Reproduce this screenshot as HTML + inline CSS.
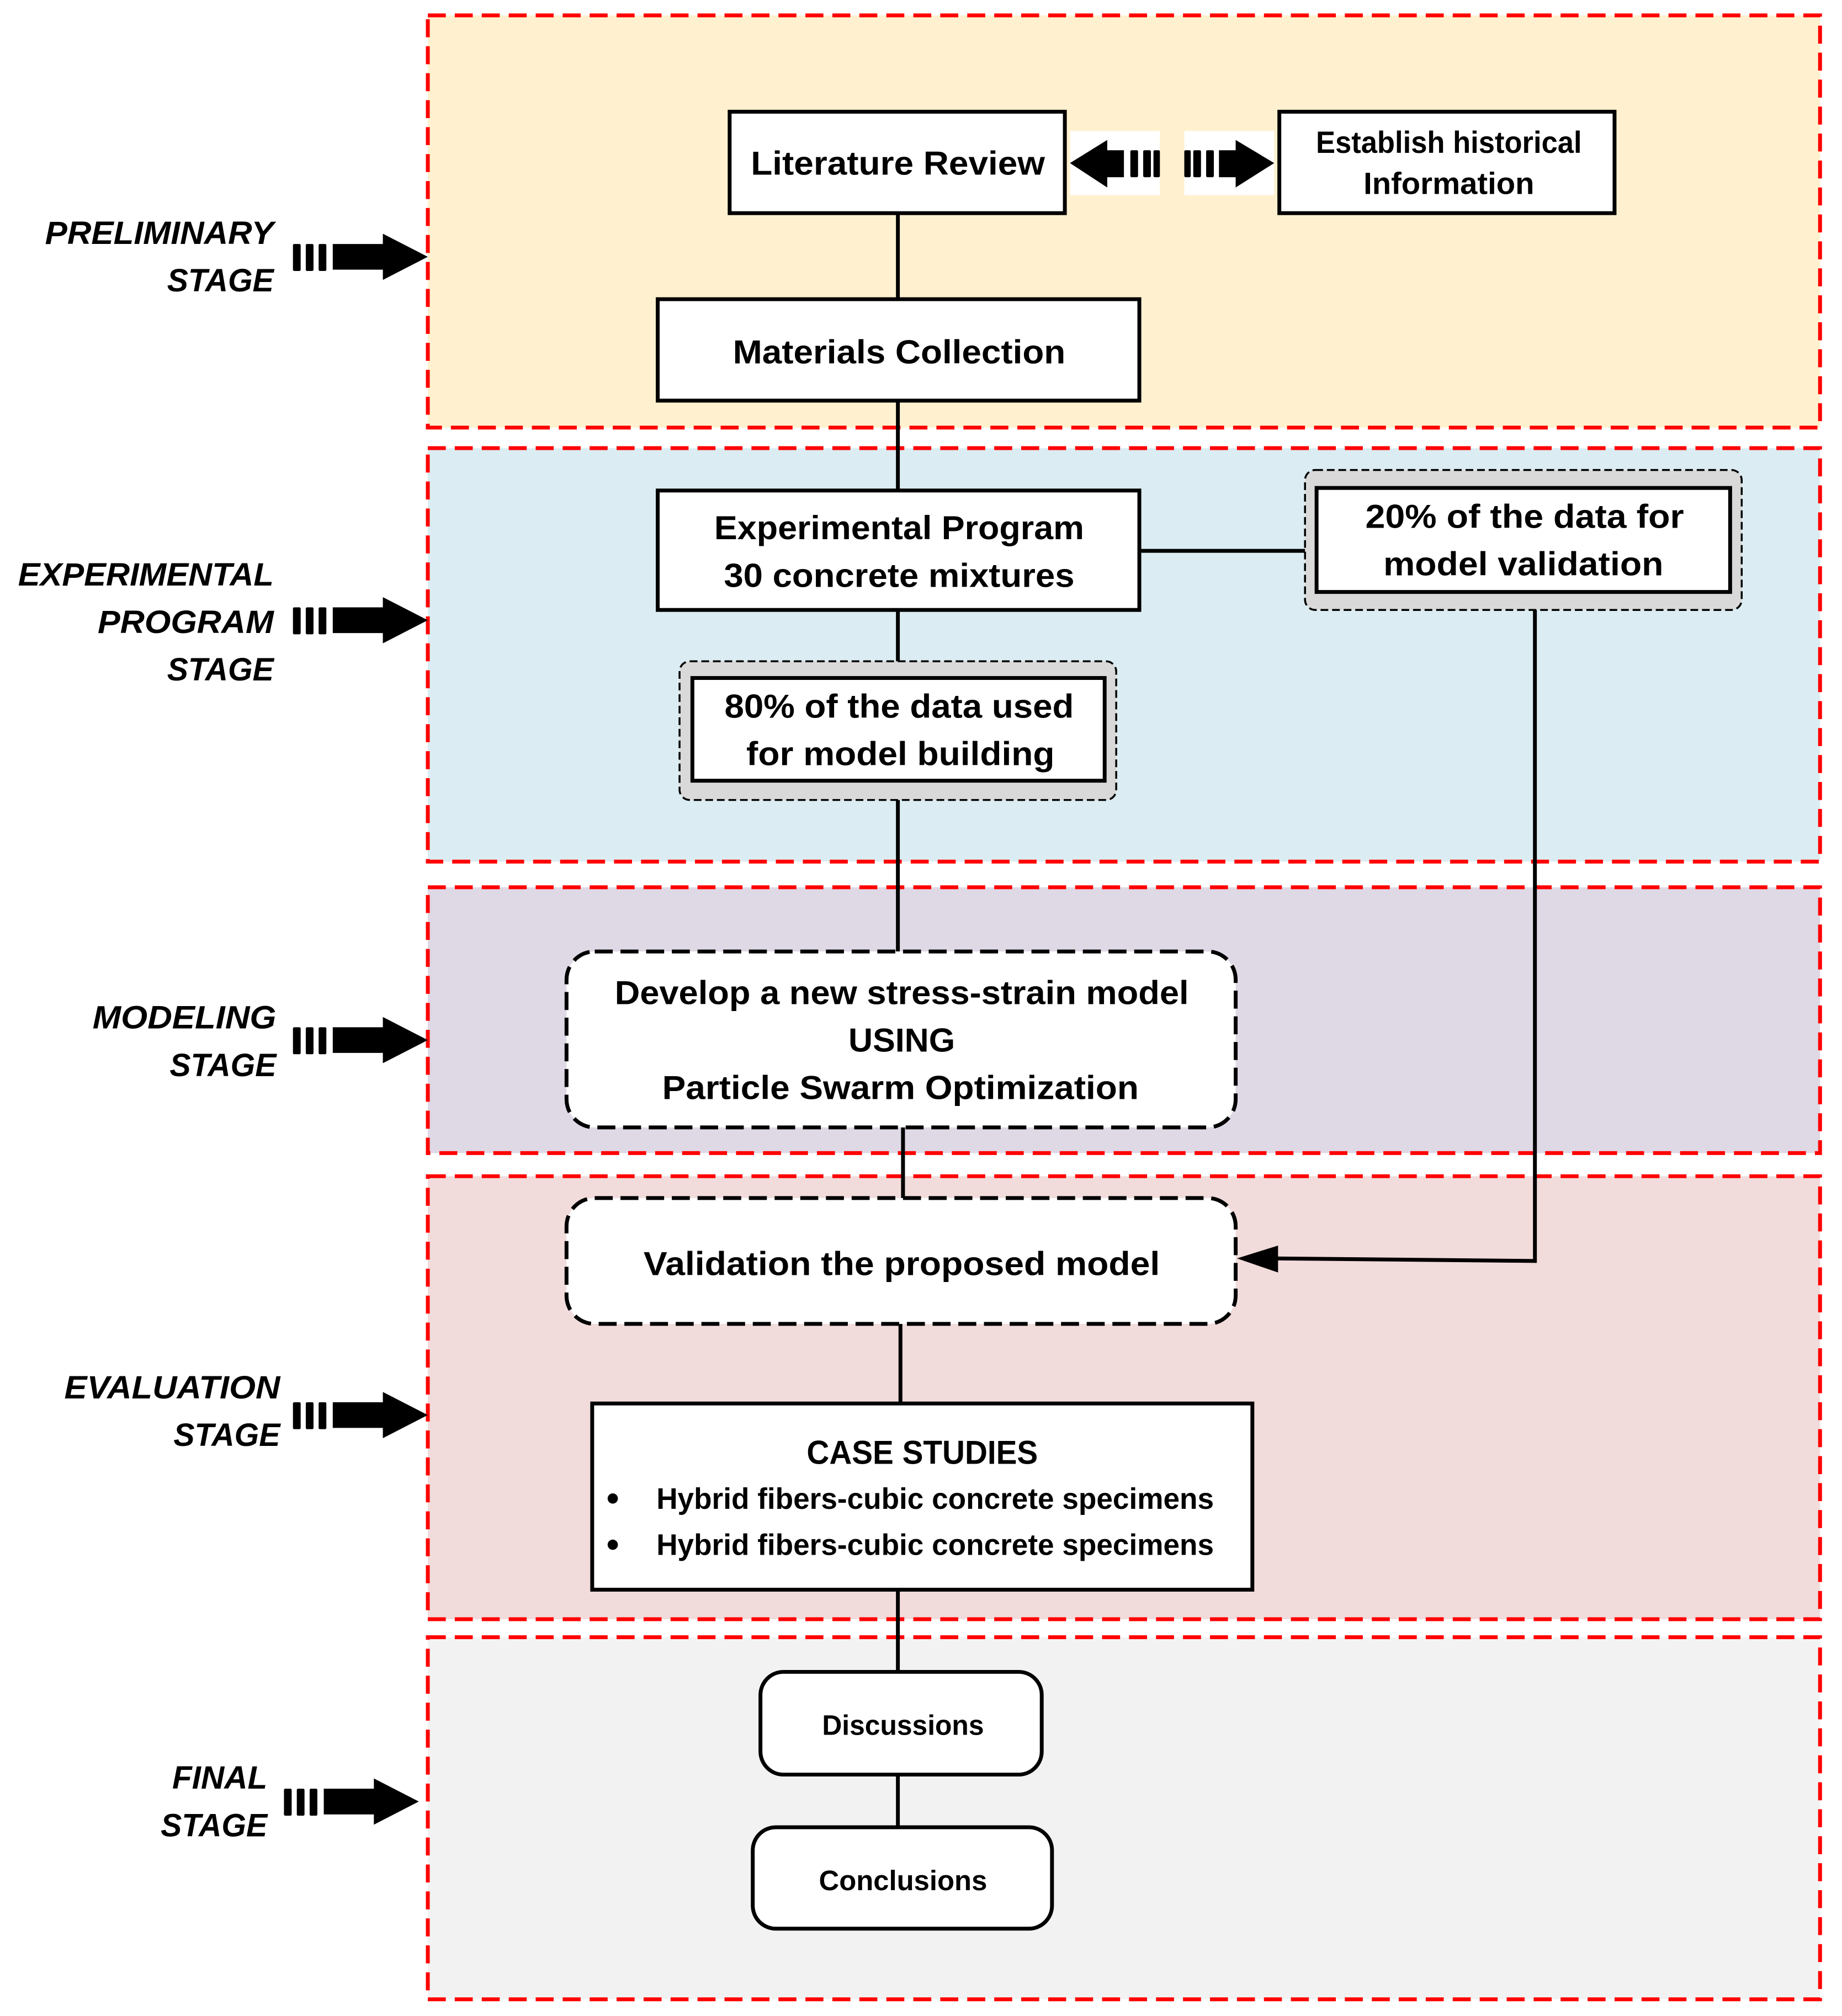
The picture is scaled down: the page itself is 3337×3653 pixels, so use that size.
<!DOCTYPE html>
<html><head><meta charset="utf-8"><style>html,body{margin:0;padding:0;background:#fff}svg{display:block}</style></head><body>
<svg width="3337" height="3653" viewBox="0 0 1434 1570" xmlns="http://www.w3.org/2000/svg" font-family="Liberation Sans, sans-serif" font-weight="bold">
<defs>
<g id="sa">
<rect x="0" y="-10" width="6" height="21" rx="1"/><rect x="10" y="-10" width="6" height="21" rx="1"/><rect x="20" y="-10" width="6" height="21" rx="1"/>
<path d="M31,-10 H70 V-18 L105,0 L70,18 V10 H31 Z"/>
</g>
</defs>
<!-- bands -->
<g stroke="#ff0000" stroke-width="3" stroke-dasharray="14,7">
<rect x="333" y="12" width="1084" height="321" fill="#fff1cf"/>
<rect x="333" y="349" width="1084" height="322" fill="#dbedf2"/>
<rect x="333" y="691" width="1084" height="207" fill="#dfd8e5"/>
<rect x="333" y="916" width="1084" height="345" fill="#f1dcdb"/>
<rect x="333" y="1275" width="1084" height="282" fill="#f2f2f2"/>
</g>
<!-- stage arrows -->
<use href="#sa" x="228" y="200"/>
<use href="#sa" x="228" y="483"/>
<use href="#sa" x="228" y="810"/>
<use href="#sa" x="228" y="1102"/>
<use href="#sa" x="221" y="1403"/>
<g font-style="italic" font-size="25" text-anchor="end" lengthAdjust="spacingAndGlyphs">
<text x="213" y="190" textLength="178" lengthAdjust="spacingAndGlyphs">PRELIMINARY</text>
<text x="213" y="227" textLength="83" lengthAdjust="spacingAndGlyphs">STAGE</text>
<text x="213" y="456" textLength="199" lengthAdjust="spacingAndGlyphs">EXPERIMENTAL</text>
<text x="213" y="493" textLength="137" lengthAdjust="spacingAndGlyphs">PROGRAM</text>
<text x="213" y="530" textLength="83" lengthAdjust="spacingAndGlyphs">STAGE</text>
<text x="215" y="801" textLength="143" lengthAdjust="spacingAndGlyphs">MODELING</text>
<text x="215" y="838" textLength="83" lengthAdjust="spacingAndGlyphs">STAGE</text>
<text x="218" y="1089" textLength="168" lengthAdjust="spacingAndGlyphs">EVALUATION</text>
<text x="218" y="1126" textLength="83" lengthAdjust="spacingAndGlyphs">STAGE</text>
<text x="208" y="1393" textLength="74" lengthAdjust="spacingAndGlyphs">FINAL</text>
<text x="208" y="1430" textLength="83" lengthAdjust="spacingAndGlyphs">STAGE</text>
</g>
<!-- connectors -->
<g stroke="#000" stroke-width="3" fill="none">
<line x1="699" y1="166" x2="699" y2="233"/>
<line x1="699" y1="312" x2="699" y2="382"/>
<line x1="699" y1="475" x2="699" y2="528"/>
<line x1="699" y1="608" x2="699" y2="741"/>
<line x1="703" y1="878" x2="703" y2="933"/>
<line x1="701" y1="1031" x2="701" y2="1093"/>
<line x1="699" y1="1238" x2="699" y2="1302"/>
<line x1="699" y1="1382" x2="699" y2="1423"/>
<line x1="887" y1="429" x2="1016" y2="429"/>
<polyline points="1195,475 1195,982 990,980"/>
</g>
<path d="M963,980 L995,970 L995,991 Z" fill="#000"/>
<!-- double arrows -->
<rect x="833" y="102" width="70" height="50" fill="#fff"/>
<rect x="922" y="102" width="70" height="50" fill="#fff"/>
<g fill="#000">
<path d="M833,127 L862,109 V117 H875 V138 H862 V146 Z"/>
<rect x="880" y="117" width="6" height="21" rx="1"/><rect x="890" y="117" width="6" height="21" rx="1"/><rect x="898" y="117" width="5" height="21" rx="1"/>
<rect x="922" y="117" width="5" height="21" rx="1"/><rect x="929" y="117" width="6" height="21" rx="1"/><rect x="939" y="117" width="6" height="21" rx="1"/>
<path d="M949,117 H962 V109 L992,127 L962,146 V138 H949 Z"/>
</g>
<!-- boxes -->
<g stroke="#000" stroke-width="3" fill="#fff">
<rect x="568" y="87" width="261" height="79"/>
<rect x="996" y="87" width="261" height="79"/>
<rect x="512" y="233" width="375" height="79"/>
<rect x="512" y="382" width="375" height="93"/>
<rect x="1016" y="366" width="340" height="109" rx="8" fill="#d9d9d9" stroke-width="1.5" stroke-dasharray="6,3"/>
<rect x="1025" y="380" width="322" height="81"/>
<rect x="529" y="515" width="340" height="108" rx="8" fill="#d9d9d9" stroke-width="1.5" stroke-dasharray="6,3"/>
<rect x="539" y="528" width="321" height="80"/>
<rect x="441" y="741" width="521" height="137" rx="22" stroke-dasharray="14,6"/>
<rect x="441" y="933" width="521" height="98" rx="22" stroke-dasharray="14,6"/>
<rect x="461" y="1093" width="514" height="145"/>
<rect x="592" y="1302" width="219" height="80" rx="18"/>
<rect x="586" y="1423" width="233" height="79" rx="18"/>
</g>
<g font-size="26" text-anchor="middle" fill="#000">
<text x="699" y="136" textLength="229" lengthAdjust="spacingAndGlyphs">Literature Review</text>
<text x="1128" y="119" font-size="24" textLength="207" lengthAdjust="spacingAndGlyphs">Establish historical</text>
<text x="1128" y="151" font-size="24" textLength="133" lengthAdjust="spacingAndGlyphs">Information</text>
<text x="700" y="283" textLength="259" lengthAdjust="spacingAndGlyphs">Materials Collection</text>
<text x="700" y="420" textLength="288" lengthAdjust="spacingAndGlyphs">Experimental Program</text>
<text x="700" y="457" textLength="273" lengthAdjust="spacingAndGlyphs">30 concrete mixtures</text>
<text x="1187" y="411" textLength="248" lengthAdjust="spacingAndGlyphs">20% of the data for</text>
<text x="1186" y="448" textLength="218" lengthAdjust="spacingAndGlyphs">model validation</text>
<text x="700" y="559" textLength="272" lengthAdjust="spacingAndGlyphs">80% of the data used</text>
<text x="701" y="596" textLength="240" lengthAdjust="spacingAndGlyphs">for model building</text>
<text x="702" y="782" textLength="447" lengthAdjust="spacingAndGlyphs">Develop a new stress-strain model</text>
<text x="702" y="819" textLength="83" lengthAdjust="spacingAndGlyphs">USING</text>
<text x="701" y="856" textLength="371" lengthAdjust="spacingAndGlyphs">Particle Swarm Optimization</text>
<text x="702" y="993" textLength="402" lengthAdjust="spacingAndGlyphs">Validation the proposed model</text>
<text x="718" y="1140" textLength="180" lengthAdjust="spacingAndGlyphs">CASE STUDIES</text>
<text x="728" y="1175" font-size="23" textLength="434" lengthAdjust="spacingAndGlyphs">Hybrid fibers-cubic concrete specimens</text>
<text x="728" y="1211" font-size="23" textLength="434" lengthAdjust="spacingAndGlyphs">Hybrid fibers-cubic concrete specimens</text>
<text x="703" y="1351" font-size="22" textLength="126" lengthAdjust="spacingAndGlyphs">Discussions</text>
<text x="703" y="1472" font-size="22" textLength="131" lengthAdjust="spacingAndGlyphs">Conclusions</text>
</g>
<circle cx="477" cy="1167" r="4"/>
<circle cx="477" cy="1203" r="4"/>
</svg>
</body></html>
